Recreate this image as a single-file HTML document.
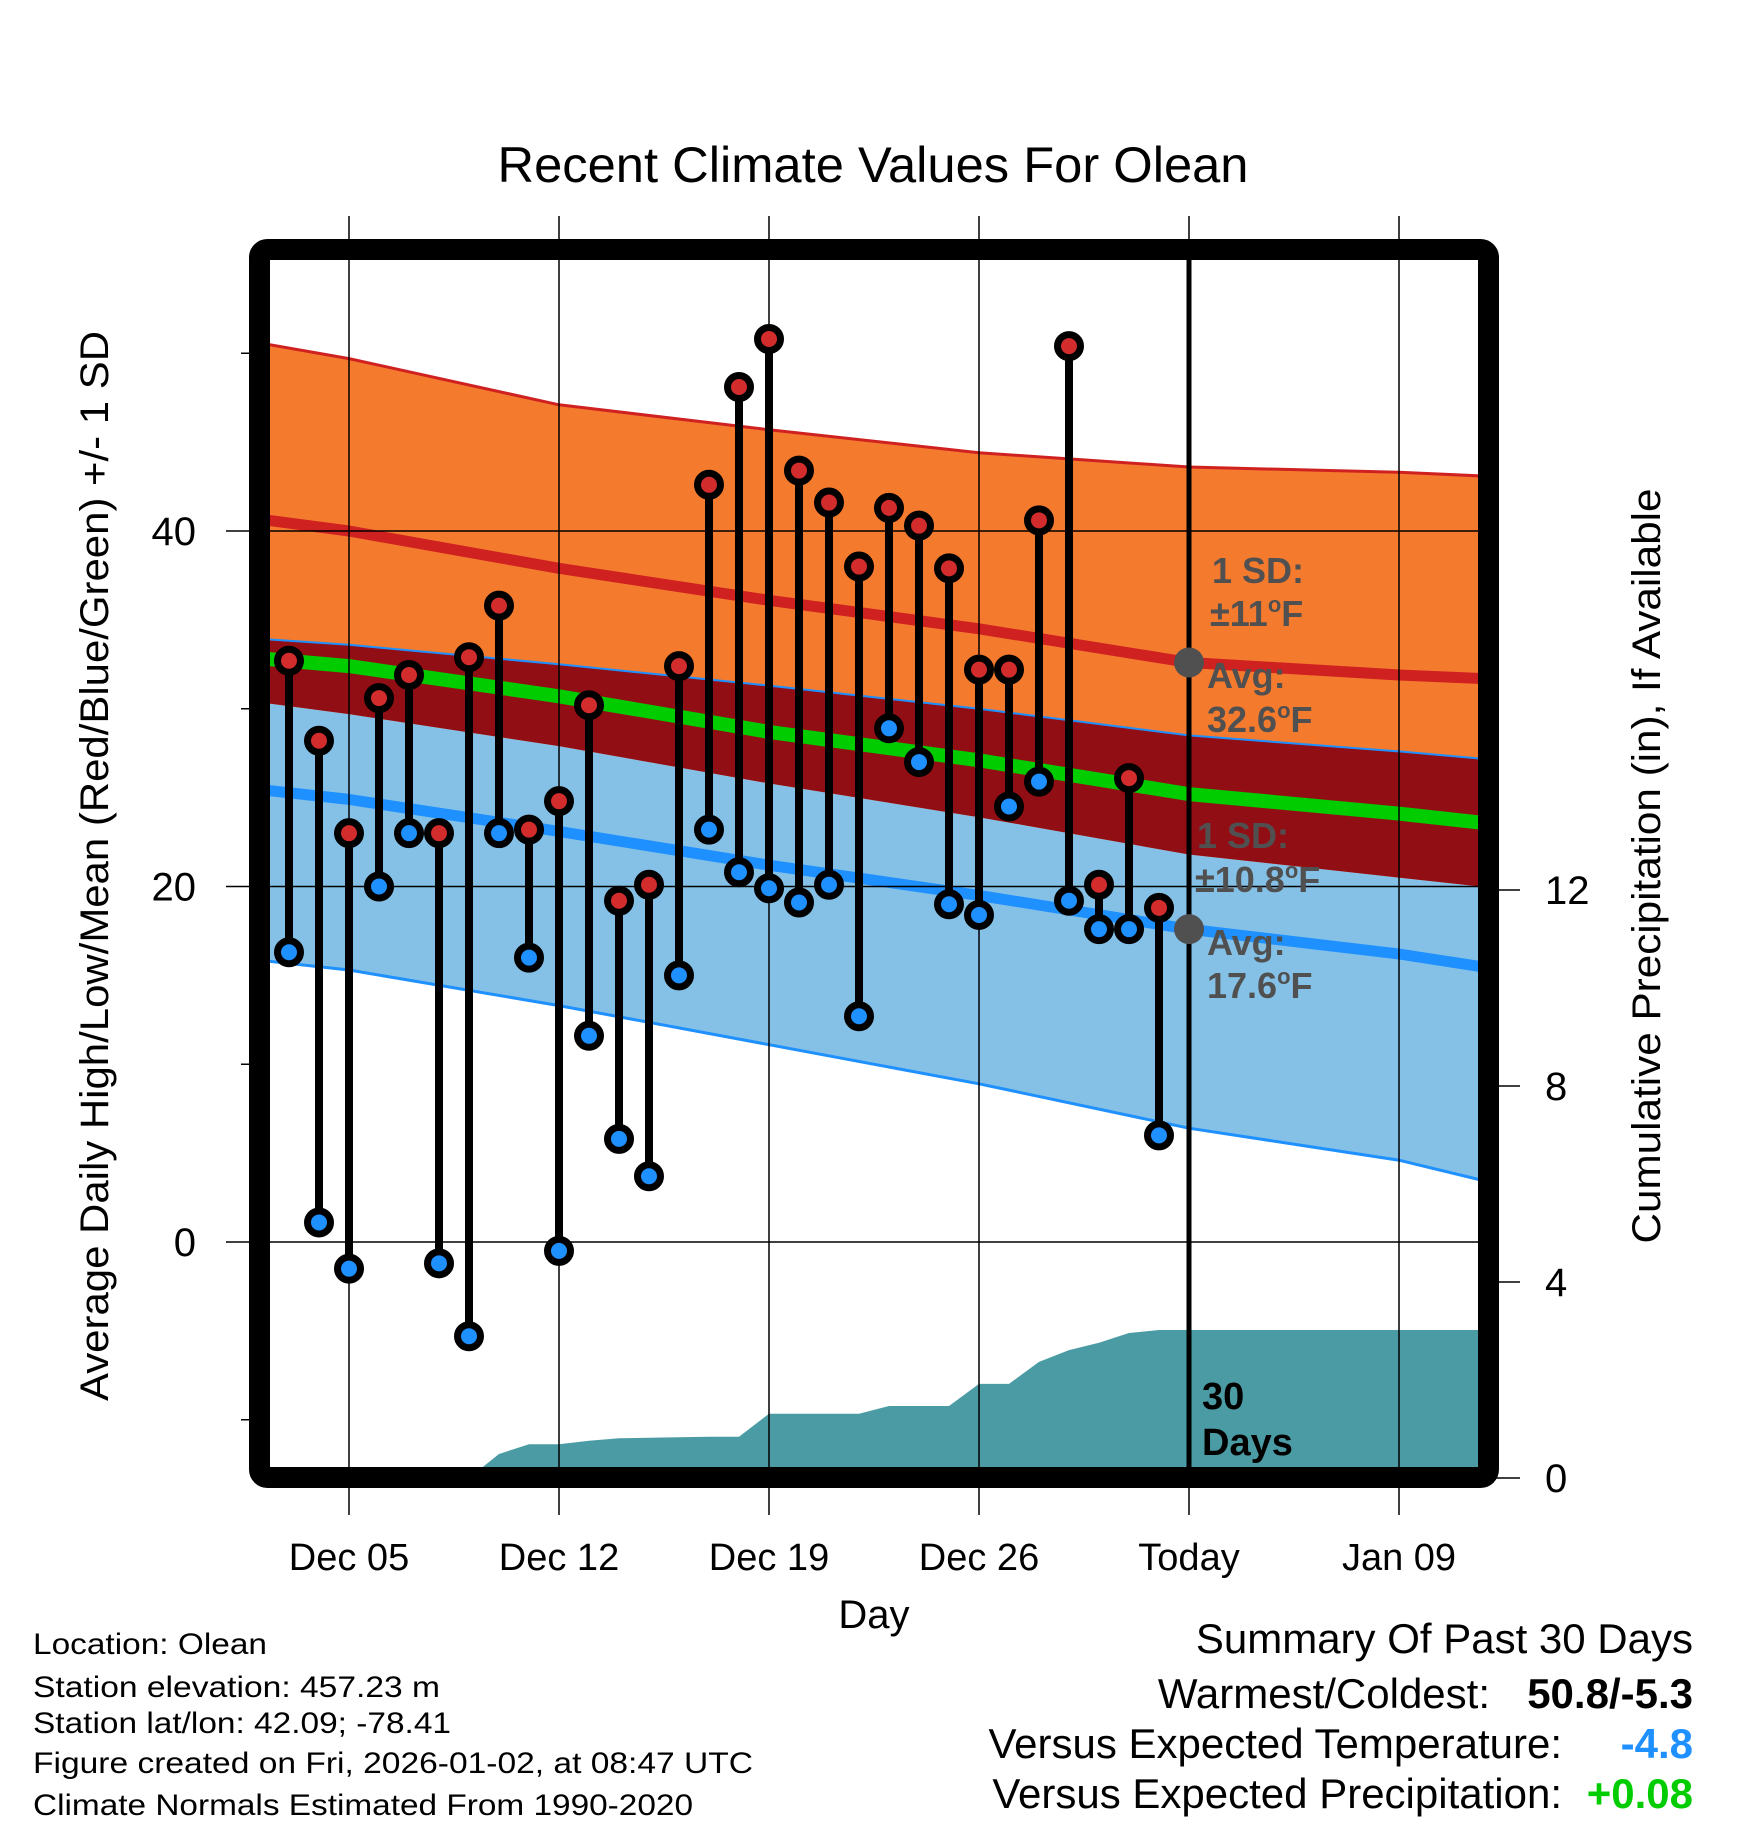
<!DOCTYPE html>
<html><head><meta charset="utf-8"><style>
html,body{margin:0;padding:0;background:#fff;}
svg{display:block;font-family:"Liberation Sans",sans-serif;}
</style></head>
<body>
<svg id="chart" width="1748" height="1828" viewBox="0 0 1748 1828" xmlns="http://www.w3.org/2000/svg">
<defs><clipPath id="plotclip"><rect x="270" y="260" width="1208" height="1208"/></clipPath></defs>
<g id="plot" clip-path="url(#plotclip)"></g>
<g id="over"></g>
</svg>
<script>
// ---- data ----
const normDays = [2.3, 5, 12, 19, 26, 33, 40, 42.7];
const hiUpper = [50.5, 49.7, 47.1, 45.7, 44.4, 43.6, 43.3, 43.1];
const hiMean  = [40.6, 40.0, 37.9, 36.1, 34.5, 32.6, 31.9, 31.7];
const hiLower = [30.3, 29.7, 27.9, 25.8, 23.9, 21.8, 20.5, 20.0];
const loUpper = [33.9, 33.6, 32.5, 31.3, 30.0, 28.5, 27.6, 27.2];
const loMean  = [25.4, 24.9, 23.1, 21.2, 19.5, 17.6, 16.2, 15.5];
const loLower = [15.8, 15.3, 13.3, 11.1, 8.9, 6.4, 4.6, 3.5];
const avgMean = [32.8, 32.4, 30.7, 28.7, 27.1, 25.2, 24.1, 23.6];
const obsDays = [3,4,5,6,7,8,9,10,11,12,13,14,15,16,17,18,19,20,21,22,23,24,25,26,27,28,29,30,31,32];
const highs = [32.7,28.2,23.0,30.6,31.9,23.0,32.9,35.8,23.2,24.8,30.2,19.2,20.1,32.4,42.6,48.1,50.8,43.4,41.6,38.0,41.3,40.3,37.9,32.2,32.2,40.6,50.4,20.1,26.1,18.8];
const lows  = [16.3,1.1,-1.5,20.0,23.0,-1.2,-5.3,23.0,16.0,-0.5,11.6,5.8,3.7,15.0,23.2,20.8,19.9,19.1,20.1,12.7,28.9,27.0,19.0,18.4,24.5,25.9,19.2,17.6,17.6,6.0];
const precipDays = [3,9,10,11,12,13,14,15,16,17,18,19,20,21,22,23,24,25,26,27,28,29,30,31,32,42.7];
const precipVals = [0,0,0.49,0.69,0.69,0.76,0.81,0.82,0.83,0.84,0.84,1.31,1.31,1.31,1.31,1.47,1.47,1.47,1.92,1.92,2.37,2.61,2.76,2.96,3.02,3.02];
const xTickDays = [5,12,19,26,33,40];
const xTickLabels = ["Dec 05","Dec 12","Dec 19","Dec 26","Today","Jan 09"];
const yTicks = [0,20,40];
const yMinor = [-10,10,30,50];
const pTicks = [0,4,8,12];
const todayDay = 33;

// ---- scales ----
const X = d => 349 + (d - 5) * 30;
const Y = t => 531 + (40 - t) * 17.775;
const P = v => 1478 - v * 49;
const NS = "http://www.w3.org/2000/svg";
const plot = document.getElementById('plot');
const over = document.getElementById('over');
function mk(tag, attrs, parent, txt){
  const e = document.createElementNS(NS, tag);
  for (const k in attrs) e.setAttribute(k, attrs[k]);
  if (txt !== undefined) e.textContent = txt;
  parent.appendChild(e); return e;
}
function pts(days, vals, f){ return days.map((d,i)=>X(d).toFixed(1)+','+f(vals[i]).toFixed(1)); }
function band(upper, lower, fill, name){
  const p = pts(normDays, upper, Y).concat(pts(normDays, lower, Y).reverse());
  const e = mk('polygon', {points:p.join(' '), fill:fill}, plot);
  
  
}
function line(vals, color, w, name){
  const e = mk('polyline', {points:pts(normDays, vals, Y).join(' '), fill:'none', stroke:color, 'stroke-width':w, 'stroke-linejoin':'round'}, plot);
  
  
}
band(loUpper, loLower, '#85C1E6', 'low-sd-band');
band(hiUpper, hiLower, '#F47A2E', 'high-sd-band');
band(loUpper, hiLower, '#920E15', 'overlap-band');

// precip
{
  const p = precipDays.map((d,i)=>X(d).toFixed(1)+','+P(precipVals[i]).toFixed(1));
  p.push(X(precipDays[precipDays.length-1]).toFixed(1)+',1470', X(precipDays[0]).toFixed(1)+',1470');
  const e = mk('polygon', {points:p.join(' '), fill:'#4A9BA4'}, plot);
  
  
}

line(hiUpper, '#D02121', 3, 'high-upper-line');
line(loUpper, '#1E90FF', 2, 'low-upper-line');
line(loLower, '#1E90FF', 3, 'low-lower-line');
line(hiMean, '#D02121', 11, 'high-mean-line');
line(loMean, '#1E90FF', 11, 'low-mean-line');
line(avgMean, '#00CC00', 14, 'mean-line');

// grid
xTickDays.forEach((d,i)=>{
  const e = mk('line', {x1:X(d), x2:X(d), y1:216, y2:1515, stroke:'#000', 'stroke-width':1.5}, over);
  
  
  const t = mk('text', {x:X(d), y:1570, 'font-size':38, 'text-anchor':'middle'}, over, xTickLabels[i]);
  
  
});
yTicks.forEach(v=>{
  const e = mk('line', {x1:226, x2:1478, y1:Y(v), y2:Y(v), stroke:'#000', 'stroke-width':1.5}, over);
  
  
  const t = mk('text', {x:196, y:Y(v)+14, 'font-size':40, 'text-anchor':'end'}, over, String(v));
  
  
});
yMinor.forEach(v=>{
  const e = mk('line', {x1:241, x2:252, y1:Y(v), y2:Y(v), stroke:'#000', 'stroke-width':1.5}, over);
  
  
});
pTicks.forEach(v=>{
  const e = mk('line', {x1:1490, x2:1520, y1:P(v), y2:P(v), stroke:'#000', 'stroke-width':1.5}, over);
  
  
  const t = mk('text', {x:1545, y:P(v)+14, 'font-size':40}, over, String(v));
  
  
});

// today line
{
  const e = mk('line', {x1:X(todayDay), x2:X(todayDay), y1:255, y2:1470, stroke:'#000', 'stroke-width':5}, over);
  
  
}

// stems and markers
obsDays.forEach((d,i)=>{
  const s = mk('line', {x1:X(d), x2:X(d), y1:Y(highs[i]), y2:Y(lows[i]), stroke:'#000', 'stroke-width':8}, over);
  
  
});
obsDays.forEach((d,i)=>{
  const h = mk('circle', {cx:X(d), cy:Y(highs[i]), r:11.5, fill:'#D22C2C', stroke:'#000', 'stroke-width':7}, over);
  
  
  const l = mk('circle', {cx:X(d), cy:Y(lows[i]), r:11.5, fill:'#1E90FF', stroke:'#000', 'stroke-width':7}, over);
  
  
});

// avg dots
[hiMean[5], loMean[5]].forEach(v=>{
  const c = mk('circle', {cx:X(todayDay), cy:Y(v), r:15, fill:'#505050'}, over);
  
  
});
</script>
<svg style="position:absolute;left:0;top:0" width="1748" height="1828" viewBox="0 0 1748 1828" xmlns="http://www.w3.org/2000/svg" font-family="Liberation Sans, sans-serif">
  <rect x="259.5" y="249.5" width="1229" height="1228" rx="8" fill="none" stroke="#000" stroke-width="21"/>
  <text x="873" y="182" font-size="50" text-anchor="middle" textLength="751" lengthAdjust="spacingAndGlyphs">Recent Climate Values For Olean</text>
  <text x="874" y="1628" font-size="40" text-anchor="middle">Day</text>
  <text transform="translate(108,866) rotate(-90)" font-size="40" text-anchor="middle" textLength="1070" lengthAdjust="spacingAndGlyphs">Average Daily High/Low/Mean (Red/Blue/Green) +/- 1 SD</text>
  <text transform="translate(1660,866) rotate(-90)" font-size="40" text-anchor="middle" textLength="755" lengthAdjust="spacingAndGlyphs">Cumulative Precipitation (in), If Available</text>
  <g font-weight="bold" font-size="36" fill="#505050">
    <text x="1212" y="583">1 SD:</text>
    <text x="1210" y="626">±11<tspan font-size="22" dy="-14">o</tspan><tspan dy="14">F</tspan></text>
    <text x="1207" y="688">Avg:</text>
    <text x="1207" y="732">32.6<tspan font-size="22" dy="-14">o</tspan><tspan dy="14">F</tspan></text>
    <text x="1197" y="848">1 SD:</text>
    <text x="1195" y="892">±10.8<tspan font-size="22" dy="-14">o</tspan><tspan dy="14">F</tspan></text>
    <text x="1207" y="955">Avg:</text>
    <text x="1207" y="998">17.6<tspan font-size="22" dy="-14">o</tspan><tspan dy="14">F</tspan></text>
  </g>
  <g font-weight="bold" font-size="38" fill="#000">
    <text x="1202" y="1409">30</text>
    <text x="1202" y="1455">Days</text>
  </g>
  <g font-size="30" fill="#000">
    <text x="33" y="1654" textLength="234" lengthAdjust="spacingAndGlyphs">Location: Olean</text>
    <text x="33" y="1697" textLength="407" lengthAdjust="spacingAndGlyphs">Station elevation: 457.23 m</text>
    <text x="33" y="1733" textLength="418" lengthAdjust="spacingAndGlyphs">Station lat/lon: 42.09; -78.41</text>
    <text x="33" y="1773" textLength="720" lengthAdjust="spacingAndGlyphs">Figure created on Fri, 2026-01-02, at 08:47 UTC</text>
    <text x="33" y="1815" textLength="660" lengthAdjust="spacingAndGlyphs">Climate Normals Estimated From 1990-2020</text>
  </g>
  <g font-size="42" fill="#000">
    <text x="1693" y="1653" text-anchor="end">Summary Of Past 30 Days</text>
    <text x="1490" y="1708" text-anchor="end">Warmest/Coldest:</text>
    <text x="1693" y="1708" text-anchor="end" font-weight="bold">50.8/-5.3</text>
    <text x="1562" y="1758" text-anchor="end">Versus Expected Temperature:</text>
    <text x="1693" y="1758" text-anchor="end" font-weight="bold" fill="#1E90FF">-4.8</text>
    <text x="1562" y="1808" text-anchor="end">Versus Expected Precipitation:</text>
    <text x="1693" y="1808" text-anchor="end" font-weight="bold" fill="#00CC00">+0.08</text>
  </g>
</svg>
</body></html>
